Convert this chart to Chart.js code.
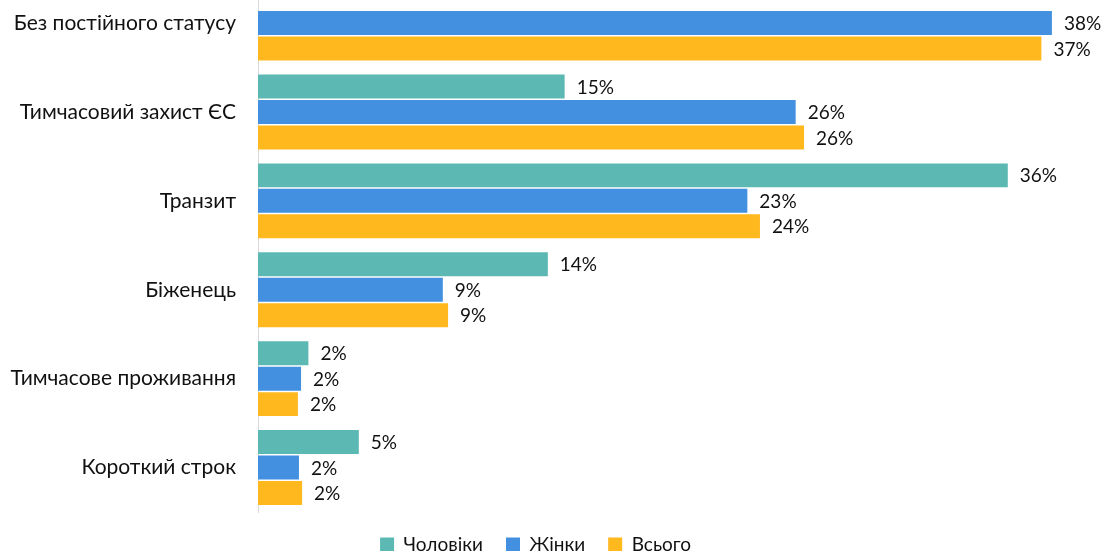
<!DOCTYPE html>
<html>
<head>
<meta charset="utf-8">
<script src="https://cdn.jsdelivr.net/npm/chart.js@4"></script>
<style>
html,body{margin:0;padding:0;background:#fff;overflow:hidden;width:1107px;height:551px;}
#wrap{position:absolute;left:0;top:-56px;width:1107px;height:620px;}
</style>
</head>
<body>
<div id="wrap"><canvas id="c"></canvas></div>
<script>
const categories = ["Без постійного статусу","Тимчасовий захист ЄС","Транзит","Біженець","Тимчасове проживання","Короткий строк"];
const seriesNames = ["Чоловіки","Жінки","Всього"];
const men   = [null, 14.6, 35.7, 13.8, 2.4, 4.8];
const women = [37.8, 25.6, 23.3, 8.8, 2.05, 1.95];
const total = [37.3, 26.0, 23.9, 9.05, 1.9, 2.1];
const colors = ["#5cb8b2","#4290df","#ffb81e"];

const FONT = "Lato, 'Open Sans', sans-serif";

const labelPlugin = {
  id: 'valueLabels',
  afterDatasetsDraw(chart) {
    const ctx = chart.ctx;
    ctx.save();
    ctx.font = "19px " + FONT;
    ctx.fillStyle = "#111";
    ctx.textBaseline = "middle";
    ctx.textAlign = "left";
    chart.data.datasets.forEach((ds, di) => {
      const meta = chart.getDatasetMeta(di);
      meta.data.forEach((el, i) => {
        const v = ds.data[i];
        if (v === null || v === undefined) return;
        ctx.fillText(Math.round(v) + "%", el.x + 12, el.y + 1);
      });
    });
    ctx.restore();
  }
};

new Chart(document.getElementById('c'), {
  type: 'bar',
  data: {
    labels: categories,
    datasets: [
      {label: seriesNames[0], data: men, backgroundColor: colors[0]},
      {label: seriesNames[1], data: women, backgroundColor: colors[1]},
      {label: seriesNames[2], data: total, backgroundColor: colors[2]}
    ]
  },
  options: {
    indexAxis: 'y',
    responsive: true,
    maintainAspectRatio: false,
    animation: false,
    datasets: { bar: { categoryPercentage: 0.86, barPercentage: 0.94 } },
    layout: { padding: { left: 0, right: 36, top: 0, bottom: 0 } },
    scales: {
      x: { display: false, min: 0, max: 38.71 },
      y: {
        grid: { display: false, drawTicks: false },
        border: { display: true, color: "#d9d9d9", width: 1 },
        ticks: { color: "#111", font: { family: FONT, size: 21 }, padding: 22 },
        afterFit(scale) { scale.width = 258; }
      }
    },
    plugins: {
      legend: {
        position: 'bottom',
        labels: {
          color: "#111",
          font: { family: FONT, size: 19 },
          boxWidth: 14, boxHeight: 14,
          padding: 23
        }
      },
      tooltip: { enabled: false }
    }
  },
  plugins: [labelPlugin]
});
</script>
</body>
</html>
